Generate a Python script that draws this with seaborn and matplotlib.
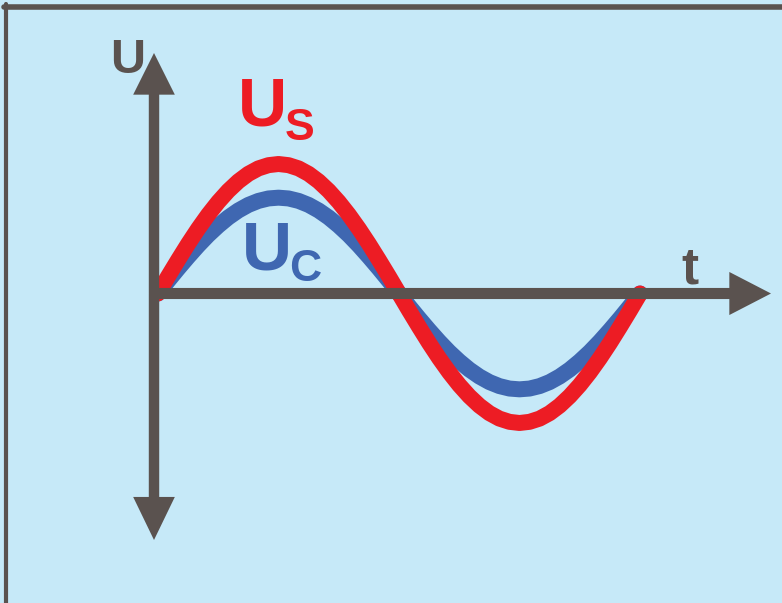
import numpy as np
import matplotlib
matplotlib.use("Agg")
import matplotlib.pyplot as plt
from matplotlib.lines import Line2D
import seaborn as sb

#%% Daten (eine Periode, abgelesen in 7,5°-Schritten)

t = [0.0000, 0.0208, 0.0417, 0.0625, 0.0833, 0.1042, 0.1250, 0.1458, 0.1667, 0.1875,
     0.2083, 0.2292, 0.2500, 0.2708, 0.2917, 0.3125, 0.3333, 0.3542, 0.3750, 0.3958,
     0.4167, 0.4375, 0.4583, 0.4792, 0.5000, 0.5208, 0.5417, 0.5625, 0.5833, 0.6042,
     0.6250, 0.6458, 0.6667, 0.6875, 0.7083, 0.7292, 0.7500, 0.7708, 0.7917, 0.8125,
     0.8333, 0.8542, 0.8750, 0.8958, 0.9167, 0.9375, 0.9583, 0.9792, 1.0000]

# Spannung der Quelle (rot) und am Kondensator (blau)
U_S = [0.000, 0.131, 0.259, 0.383, 0.500, 0.609, 0.707, 0.793, 0.866, 0.924,
       0.966, 0.991, 1.000, 0.991, 0.966, 0.924, 0.866, 0.793, 0.707, 0.609,
       0.500, 0.383, 0.259, 0.131, 0.000, -0.131, -0.259, -0.383, -0.500, -0.609,
       -0.707, -0.793, -0.866, -0.924, -0.966, -0.991, -1.000, -0.991, -0.966, -0.924,
       -0.866, -0.793, -0.707, -0.609, -0.500, -0.383, -0.259, -0.131, 0.000]
U_C = [0.000, 0.097, 0.192, 0.283, 0.370, 0.451, 0.523, 0.587, 0.641, 0.684,
       0.715, 0.734, 0.740, 0.734, 0.715, 0.684, 0.641, 0.587, 0.523, 0.451,
       0.370, 0.283, 0.192, 0.097, 0.000, -0.097, -0.192, -0.283, -0.370, -0.451,
       -0.523, -0.587, -0.641, -0.684, -0.715, -0.734, -0.740, -0.734, -0.715, -0.684,
       -0.641, -0.587, -0.523, -0.451, -0.370, -0.283, -0.192, -0.097, 0.000]

labels = {"U": "U", "t": "t", "S": ("U", "S"), "C": ("U", "C")}

#%% Farben

bg = "#c6e9f8"
grau = "#5a524f"
rot = "#ed1c24"
blau = "#3f67b1"

#%% Figur

sb.set_theme(style="white")
plt.rcParams["font.family"] = ["Liberation Sans", "DejaVu Sans"]

W, H = 782, 603
fig = plt.figure(figsize=(W / 100, H / 100), dpi=100, facecolor=bg)
ax = fig.add_axes([0, 0, 1, 1])
ax.set_axis_off()

# Nullpunkt bei (158, 293.5) px, Periode 482 px, Amplitude 1 = 129.5 px
x0, y0, per, amp = 158, 293.5, 482, 129.5
ax.set_xlim(-x0 / per, (W - x0) / per)
ax.set_ylim(-(H - y0) / amp, y0 / amp)

# Rahmen oben und links
fig.add_artist(Line2D([4, W], [H - 6.5, H - 6.5], transform=None, color=grau, lw=4))
fig.add_artist(Line2D([5.5, 5.5], [0, H - 4], transform=None, color=grau, lw=3))

# Achsenpfeile
def pfeil(x1, y1, x2, y2, hl, hw, tw):
    ax.annotate("", xy=(x2, H - y2), xytext=(x1, H - y1),
                xycoords="figure pixels", textcoords="figure pixels",
                arrowprops=dict(arrowstyle=f"simple,head_length={hl},head_width={hw},tail_width={tw}",
                                mutation_scale=1, shrinkA=0, shrinkB=0,
                                fc=grau, ec="none"))

pfeil(154, 293.5, 154, 53, 30, 30, 7.5)
pfeil(154, 293.5, 154, 540, 31, 30, 7.5)
pfeil(149, 293.5, 771, 293.5, 30, 31, 8)

# Kurven
sb.lineplot(x=t, y=U_C, ax=ax, color=blau, linewidth=11.5, solid_capstyle="round")
sb.lineplot(x=t, y=U_S, ax=ax, color=rot, linewidth=11.5, solid_capstyle="round")

# Beschriftungen
def txt(x, y, s, size, col):
    fig.text(x / W, 1 - y / H, s, fontsize=size, color=col, weight="bold",
             ha="center", va="baseline")

txt(127.5, 73, labels["U"], 35, grau)
txt(690, 283, labels["t"], 37, grau)
txt(262.5, 125, labels["S"][0], 49, rot)
txt(299.5, 140, labels["S"][1], 32, rot)
txt(266.5, 270, labels["C"][0], 50, blau)
txt(305, 281, labels["C"][1], 32, blau)

fig.savefig("out.png", dpi=100, facecolor=bg)
